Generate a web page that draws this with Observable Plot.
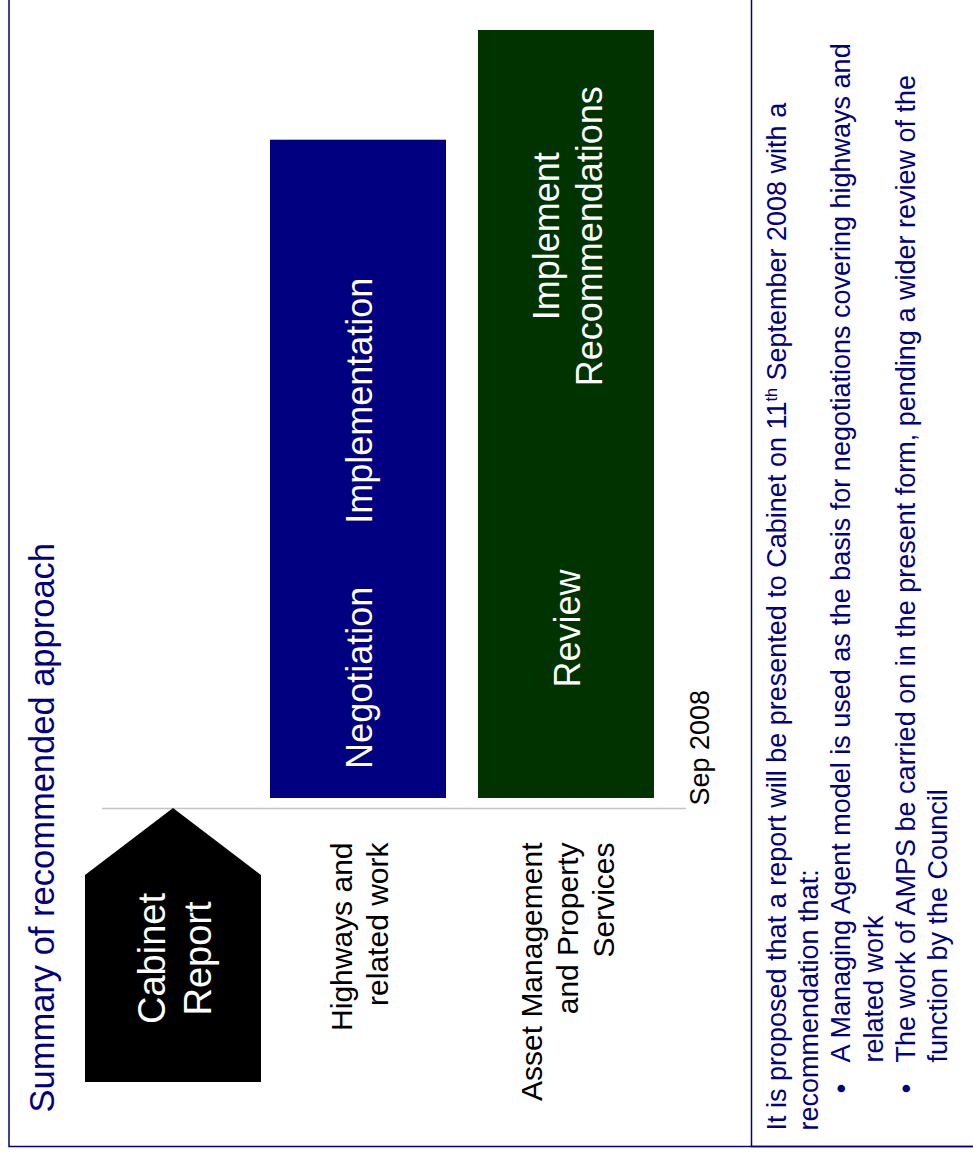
<!DOCTYPE html>
<html>
<head>
<meta charset="utf-8">
<script src="https://cdn.jsdelivr.net/npm/d3@7"></script>
<script src="https://cdn.jsdelivr.net/npm/@observablehq/plot@0.6"></script>
<style>
  html, body { margin: 0; padding: 0; background: #fff; }
  #chart svg { display: block; }
</style>
</head>
<body>
<div id="chart"></div>
<script>
// ---- data ----
const rows = ["Cabinet Report", "Highways and related work", "Asset Management and Property Services"];
const rowColors = ["#000000", "#000080", "#003300"];
const cabinetLabel = "Cabinet\nReport";
const cabinetMonth = 0; // report to Cabinet, Sep 2008
const labelRows = [rows[1], rows[2]];
const labelTexts = ["Highways and\nrelated work", "Asset Management\nand Property\nServices"];
const barRows = [rows[1], rows[2]];
const barStart = [0, 0];     // months from Sep 2008
const barEnd = [12, 14];
const phaseRows = [rows[1], rows[1], rows[2], rows[2]];
const phaseNames = ["Negotiation", "Implementation", "Review", "Implement\nRecommendations"];
const phaseMonths = [2.2, 7.25, 3.1, 10.25];
const tickMonths = [0];
const tickLabels = ["Sep 2008"];
const title = "Summary of recommended approach";
const intro = "It is proposed that a report will be presented to Cabinet on 11th September 2008 with a\nrecommendation that:";
const bulletTexts = [
  "A Managing Agent model is used as the basis for negotiations covering highways and\nrelated work",
  "The work of AMPS be carried on in the present form, pending a wider review of the\nfunction by the Council"
];

// ---- tables built from arrays ----
const bars = barRows.map((r, i) => ({row: r, start: barStart[i], end: barEnd[i]}));
const phases = phaseRows.map((r, i) => ({row: r, label: phaseNames[i], month: phaseMonths[i]}));
const labels = labelRows.map((r, i) => ({row: r, label: labelTexts[i]}));
const ticks = tickMonths.map((m, i) => ({month: m, label: tickLabels[i]}));

const navy = "#000080";
const font = "'Liberation Sans', Arial, Helvetica, sans-serif";
const headerShift = 23; // header column sits closer to the first row

function pentagon(index, scales) {
  const x = scales.x, y = scales.y;
  const x0 = x(rows[0]) + headerShift, w = x.bandwidth(), y0 = y(cabinetMonth);
  const tip = 10, shoulder = 77, bottom = 284;
  return d3.create("svg:path")
    .attr("d", `M${x0 + w / 2},${y0 + tip}L${x0 + w},${y0 + shoulder}L${x0 + w},${y0 + bottom}L${x0},${y0 + bottom}L${x0},${y0 + shoulder}Z`)
    .attr("fill", rowColors[0])
    .node();
}

const chart = Plot.plot({
  width: 973,
  height: 1152,
  marginTop: 30,
  marginBottom: 354,
  marginLeft: 102,
  marginRight: 287,
  style: {fontFamily: font, background: "white", overflow: "hidden"},
  x: {domain: rows, range: [61.75, 654], paddingInner: 0.156, paddingOuter: 0, axis: null},
  y: {domain: [0, 14], axis: null},
  color: {domain: rows, range: rowColors},
  marks: [
    // slide border and divider
    Plot.frame({stroke: navy, strokeWidth: 1.5, insetLeft: -93.5, insetRight: -300, insetTop: -40, insetBottom: -348}),
    Plot.frame({stroke: navy, strokeWidth: 1.5, insetLeft: 649, insetRight: -300, insetTop: -40, insetBottom: -348}),
    // baseline at Sep 2008
    Plot.ruleY(ticks, {y: "month", dy: 10, stroke: "#c4c4c4", strokeWidth: 1.5}),
    Plot.text(ticks, {y: "month", text: "label", frameAnchor: "right", dx: 22, dy: 7, rotate: -90,
      textAnchor: "start", lineAnchor: "bottom", fontSize: 27, fill: "black"}),
    // bars
    Plot.rectY(bars, {x: "row", y1: "start", y2: "end", fill: "row"}),
    // cabinet report milestone
    pentagon,
    Plot.text([cabinetLabel], {x: () => rows[0], y: () => cabinetMonth, text: d => d, dx: headerShift, dy: 160, rotate: -90,
      textAnchor: "middle", lineAnchor: "middle", lineHeight: 1.2, fontSize: 38, fill: "white"}),
    // phase labels in bars
    Plot.text(phases, {x: "row", y: "month", text: "label", rotate: -90, textAnchor: "middle",
      lineAnchor: "middle", lineHeight: 1.2, fontSize: 36, fill: "white"}),
    // row labels
    Plot.text(labels, {x: "row", y: () => 0, text: "label", dy: 44, rotate: -90, textAnchor: "end",
      lineAnchor: "middle", lineHeight: 1.2, fontSize: 30, fill: "black"}),
    // title
    Plot.text([title], {text: d => d, frameAnchor: "bottom-left", dx: -49, dy: 314, rotate: -90,
      textAnchor: "start", lineAnchor: "bottom", fontSize: 34.5, fill: navy}),
    // notes panel
    Plot.text([intro], {text: d => d, frameAnchor: "bottom-right", dx: 76, dy: 332, rotate: -90,
      textAnchor: "start", lineAnchor: "top", lineHeight: 1.2, fontSize: 27, fill: navy}),
    Plot.text(["\u2022\n\n\u2022"], {text: d => d, frameAnchor: "bottom-right", dx: 140.8, dy: 290, rotate: -90,
      textAnchor: "middle", lineAnchor: "top", lineHeight: 1.2, fontSize: 27, fill: navy}),
    Plot.text([bulletTexts[0]], {text: d => d, frameAnchor: "bottom-right", dx: 140.8, dy: 264, rotate: -90,
      textAnchor: "start", lineAnchor: "top", lineHeight: 1.2, fontSize: 27, fill: navy}),
    Plot.text([bulletTexts[1]], {text: d => d, frameAnchor: "bottom-right", dx: 205.6, dy: 264, rotate: -90,
      textAnchor: "start", lineAnchor: "top", lineHeight: 1.2, fontSize: 27, fill: navy})
  ]
});

// superscript "th" in "11th"
chart.querySelectorAll("text, tspan").forEach(el => {
  if (el.children.length === 0 && el.textContent.includes("11th")) {
    const parts = el.textContent.split("11th");
    el.textContent = "";
    el.append(document.createTextNode(parts[0] + "11"));
    const sup = document.createElementNS("http://www.w3.org/2000/svg", "tspan");
    sup.setAttribute("baseline-shift", "super");
    sup.setAttribute("font-size", "60%");
    sup.textContent = "th";
    el.append(sup);
    el.append(document.createTextNode(parts[1]));
  }
});

document.getElementById("chart").append(chart);
</script>
</body>
</html>
